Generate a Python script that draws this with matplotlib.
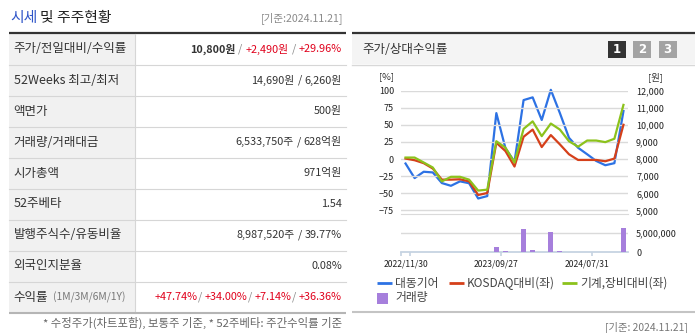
import matplotlib
matplotlib.use("Agg")
import matplotlib.pyplot as plt
from matplotlib.patches import Rectangle
from matplotlib.ticker import FixedLocator, FuncFormatter

plt.rcParams['font.family'] = ['Noto Sans CJK KR', 'DejaVu Sans']

W, H = 695, 333

# 월말 주가 (원), 상대수익률 (%), 거래량 (주): 2022/11 ~ 2024/11
price = [7740, 6890, 7260, 7220, 6600, 6440, 6700, 6590, 5700, 5840,
         10680, 8640, 7840, 11440, 11600, 10280, 12040, 10680, 9240, 8660,
         8280, 7890, 7640, 7760, 10800]
kosdaq_rel = [0.7, -1.7, -6.0, -13.8, -30.0, -30.0, -29.5, -32.6, -52.4, -49.5,
              23.8, 11.7, -10.9, 32.5, 43.0, 17.5, 35.0, 21.4, 7.0, -1.3,
              -1.3, -1.3, -3.2, 0.7, 50.0]
sector_rel = [2.2, 2.2, -5.0, -12.3, -32.6, -25.9, -25.9, -30.0, -46.0, -44.6,
              26.0, 16.6, -5.0, 44.0, 55.0, 33.4, 51.8, 43.0, 26.0, 18.0,
              27.0, 27.0, 24.7, 29.6, 79.0]
volume = [40000, 30000, 30000, 40000, 30000, 30000, 40000, 30000, 50000, 60000,
          1340000, 270000, 60000, 6150000, 530000, 60000, 5350000, 270000, 50000, 40000,
          40000, 30000, 40000, 50000, 6533750]
date_ticks = [0, 10, 20]
date_labels = ['2022/11/30', '2023/09/27', '2024/07/31']

pct_ticks = [-75, -50, -25, 0, 25, 50, 75, 100]
won_ticks = [5000, 6000, 7000, 8000, 9000, 10000, 11000, 12000]

row_labels = ['주가/전일대비/수익률', '52Weeks 최고/최저', '액면가', '거래량/거래대금',
              '시가총액', '52주베타', '발행주식수/유동비율', '외국인지분율', '수익률']

RED = '#e0001b'
GRAY = '#888888'
TXT = '#333333'
# 각 행의 값: 문자열 조각 (텍스트, 색, 굵기) 또는 간격(px)
row_values = [
    [('10,800원', TXT, 'bold'), 3, ('/', GRAY, 'normal'), 3, ('+2,490원', RED, 'normal'),
     3, ('/', GRAY, 'normal'), 3, ('+29.96%', RED, 'normal')],
    [('14,690원', TXT, 'normal'), 3, ('/', TXT, 'normal'), 3, ('6,260원', TXT, 'normal')],
    [('500원', TXT, 'normal')],
    [('6,533,750주', TXT, 'normal'), 3, ('/', TXT, 'normal'), 3, ('628억원', TXT, 'normal')],
    [('971억원', TXT, 'normal')],
    [('1.54', TXT, 'normal')],
    [('8,987,520주', TXT, 'normal'), 3, ('/', TXT, 'normal'), 3, ('39.77%', TXT, 'normal')],
    [('0.08%', TXT, 'normal')],
    [('+47.74%', RED, 'normal'), ('/', GRAY, 'normal'), 3, ('+34.00%', RED, 'normal'),
     ('/', GRAY, 'normal'), 3, ('+7.14%', RED, 'normal'), ('/', GRAY, 'normal'), 3,
     ('+36.36%', RED, 'normal')],
]

fig = plt.figure(figsize=(W / 100, H / 100), dpi=100)
renderer = fig.canvas.get_renderer()

bg = fig.add_axes([0, 0, 1, 1])
bg.set_xlim(0, W)
bg.set_ylim(H, 0)
bg.axis('off')


def rich_right(x, y, parts, size):
    for p in reversed(parts):
        if not isinstance(p, tuple):
            x -= p
            continue
        s, c, w = p
        t = bg.text(x, y, s, ha='right', va='center', color=c, fontsize=size, fontweight=w)
        x -= t.get_window_extent(renderer=renderer).width


def box(ax_px):
    x0, y0, x1, y1 = ax_px
    return [x0 / W, 1 - y1 / H, (x1 - x0) / W, (y1 - y0) / H]


# ---- 왼쪽: 시세 및 주주현황 표 ----
t = bg.text(10, 18, '시세', color='#2f55c8', fontsize=10.7, va='center')
x_after = 10 + t.get_window_extent(renderer=renderer).width
bg.text(x_after + 3, 18, '및 주주현황', color='#222222', fontsize=10.7, va='center')
bg.text(343, 18, '[기준:2024.11.21]', color='#8a8a8a', fontsize=7.6, ha='right', va='center')

top, rh = 33.5, 31.0
bg.add_patch(Rectangle((9, top), 126, rh * 9, color='#f1f1f1', lw=0))
bg.plot([9, 346], [32.5, 32.5], color='#333333', lw=1.6, solid_capstyle='butt')
for i in range(1, 9):
    bg.plot([9, 346], [top + rh * i] * 2, color='#d6d6d6', lw=0.8)
bg.plot([134.5, 134.5], [top, top + rh * 9], color='#d6d6d6', lw=0.8)
bg.plot([9, 346], [312.5, 312.5], color='#b5b5b5', lw=1.5, solid_capstyle='butt')

for i, (lab, vals) in enumerate(zip(row_labels, row_values)):
    yc = top + rh * i + rh / 2
    t = bg.text(13.5, yc, lab, color='#333333', fontsize=9.0, va='center')
    if i == 8:
        xl = 13.5 + t.get_window_extent(renderer=renderer).width
        bg.text(xl + 5, yc + 0.5, '(1M/3M/6M/1Y)', color='#777777', fontsize=7.4, va='center')
    rich_right(342, yc, vals, 7.8)

bg.text(342, 323, '* 수정주가(차트포함), 보통주 기준, * 52주베타: 주간수익률 기준',
        color='#666666', fontsize=8.2, ha='right', va='center')

# ---- 오른쪽: 주가/상대수익률 차트 ----
bg.add_patch(Rectangle((352, 33.5), 343, 30.5, color='#f4f4f4', lw=0))
bg.plot([352, 695], [32.5, 32.5], color='#333333', lw=1.6, solid_capstyle='butt')
bg.plot([352, 695], [64.5, 64.5], color='#d8d8d8', lw=1.0)
bg.text(362, 49.5, '주가/상대수익률', color='#333333', fontsize=9.0, va='center')
for k, (bx, fc) in enumerate([(608, '#333333'), (633, '#a3a3a3'), (659, '#a3a3a3')]):
    bg.add_patch(Rectangle((bx, 41), 17.5, 17, color=fc, lw=0))
    bg.text(bx + 8.75, 49.8, str(k + 1), color='white', fontsize=8.5, fontweight='bold',
            ha='center', va='center', family='DejaVu Sans')
bg.text(387, 77, '[%]', color='#333333', fontsize=6.8, ha='center', va='center')
bg.text(655, 77, '[원]', color='#333333', fontsize=6.8, ha='center', va='center')

# 범례
leg_items = [(377, 283.3, '#2d72e4', '대동기어'), (449, 283.3, '#d5401a', 'KOSDAQ대비(좌)'),
             (562, 283.3, '#8cc21c', '기계,장비대비(좌)')]
for lx, ly, c, s in leg_items:
    bg.plot([lx, lx + 14.5], [ly, ly], color=c, lw=2.0, solid_capstyle='butt')
    bg.text(lx + 18, ly, s, color='#444444', fontsize=8.5, va='center')
bg.add_patch(Rectangle((377, 292.5), 11, 11, color='#a67fdc', lw=0))
bg.text(395, 298, '거래량', color='#444444', fontsize=8.5, va='center')

bg.plot([352, 695], [312, 312], color='#c4c4c4', lw=1.5, solid_capstyle='butt')
bg.text(688, 327, '[기준: 2024.11.21]', color='#777777', fontsize=7.4, ha='right', va='center')

x = list(range(len(price)))

# 상대수익률 (좌축) + 주가 (우축)
ax = fig.add_axes(box((401, 90.5, 628, 213.5)))
ax.set_xlim(-0.5, 24.5)
ax.set_ylim(-79.4, 100)
ax.set_yticks(pct_ticks)
ax.yaxis.grid(True, color='#dadada', lw=1.0)
ax.set_axisbelow(True)
for side in ['top', 'left', 'right']:
    ax.spines[side].set_visible(False)
ax.spines['bottom'].set_color('#dadada')
ax.tick_params(axis='y', length=0, pad=5, labelsize=6.5, labelcolor='#222222')
ax.set_xticks([])

ax2 = ax.twinx()
ax2.set_ylim(5000 - 4.4 * 40, 12000)
ax2.yaxis.set_major_locator(FixedLocator(won_ticks))
ax2.yaxis.set_major_formatter(FuncFormatter(lambda v, p: f'{int(v):,}'))
ax2.tick_params(axis='y', length=0, pad=5.8, labelsize=6.5, labelcolor='#222222')
for side in ['top', 'left', 'right', 'bottom']:
    ax2.spines[side].set_visible(False)
ax2.plot(x, price, color='#2d72e4', lw=1.6, clip_on=False)

ax.set_zorder(ax2.get_zorder() + 1)
ax.patch.set_visible(False)
ax.plot(x, kosdaq_rel, color='#d5401a', lw=1.6, clip_on=False)
ax.plot(x, sector_rel, color='#8cc21c', lw=1.6, clip_on=False)

# 거래량
axv = fig.add_axes(box((401, 226, 628, 252)))
axv.set_xlim(-0.5, 24.5)
axv.set_ylim(0, 6.95e6)
axv.bar(x, volume, width=0.55, color='#a67fdc', zorder=3)
axv.axhline(5e6, color='#dadada', lw=1.0, zorder=1)
for side in ['top', 'left', 'right']:
    axv.spines[side].set_visible(False)
axv.spines['bottom'].set_color('#c6d3e2')
axv.spines['bottom'].set_linewidth(1.3)
axv.yaxis.tick_right()
axv.set_yticks([0, 5e6])
axv.set_yticklabels(['0', '5,000,000'])
axv.tick_params(axis='y', length=0, pad=5.8, labelsize=6.5, labelcolor='#222222')
axv.set_xticks(date_ticks)
axv.set_xticklabels(date_labels)
axv.set_xticks([-0.5, 0.5, 10.5, 20.5], minor=True)
axv.tick_params(axis='x', which='major', length=0, pad=5.5, labelsize=6.2, labelcolor='#222222')
axv.tick_params(axis='x', which='minor', length=3, width=1.2, color='#c6d3e2')

fig.savefig('out.png', dpi=100)
